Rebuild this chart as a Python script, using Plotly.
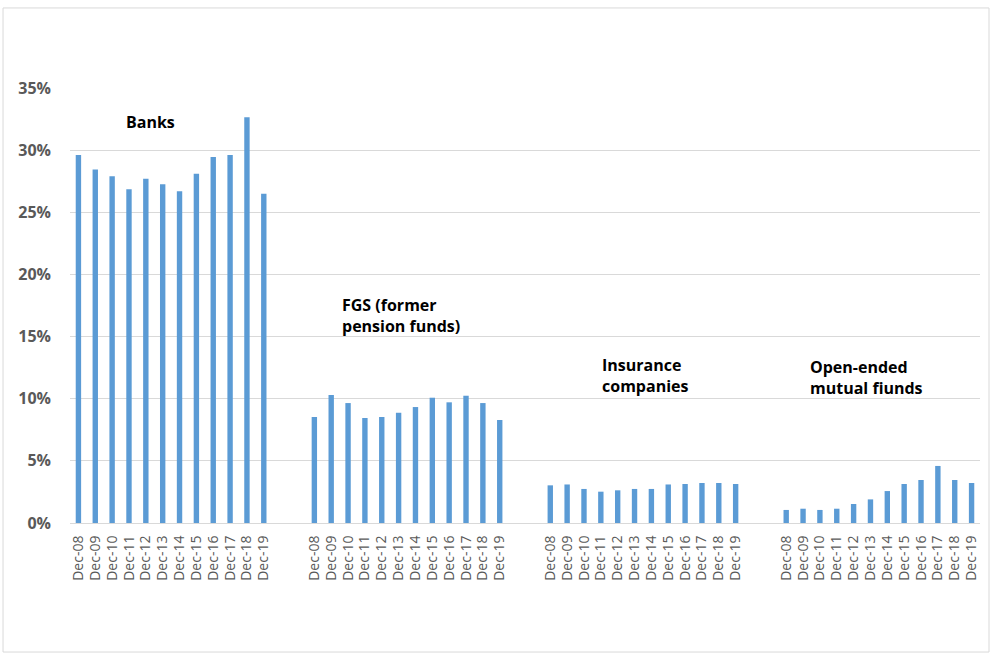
import plotly.graph_objects as go

# Share of holdings by institution type, December 2008 - December 2019
years = ["Dec-08", "Dec-09", "Dec-10", "Dec-11", "Dec-12", "Dec-13",
         "Dec-14", "Dec-15", "Dec-16", "Dec-17", "Dec-18", "Dec-19"]

banks = [29.6, 28.45, 27.9, 26.85, 27.7, 27.25, 26.7, 28.1, 29.45, 29.6, 32.65, 26.5]
fgs = [8.53, 10.3, 9.65, 8.45, 8.53, 8.87, 9.33, 10.08, 9.71, 10.24, 9.65, 8.29]
insurance = [3.03, 3.1, 2.74, 2.52, 2.63, 2.74, 2.74, 3.1, 3.14, 3.22, 3.22, 3.14]
mutual_funds = [1.05, 1.15, 1.05, 1.15, 1.53, 1.9, 2.57, 3.14, 3.46, 4.59, 3.46, 3.22]

groups = [
    ("Banks", banks),
    ("FGS (former<br>pension funds)", fgs),
    ("Insurance<br>companies", insurance),
    ("Open-ended<br>mutual fiunds", mutual_funds),
]

GAP = 2  # empty slots between institution groups
step = len(years) + GAP

xs, ys, tick_vals, tick_text = [], [], [], []
for g, (_, vals) in enumerate(groups):
    for i, v in enumerate(vals):
        pos = g * step + i
        xs.append(pos)
        ys.append(v / 100)
        tick_vals.append(pos)
        tick_text.append(years[i])

fig = go.Figure(go.Bar(x=xs, y=ys, width=0.32, marker_color="#5B9BD5",
                       marker_line_width=0))

# group labels: (x position in slots, y value, anchor)
label_pos = [(4.25, 0.323, "center"), (15.5, 0.167, "left"),
             (30.95, 0.119, "left"), (43.3, 0.117, "left")]
for (name, _), (lx, ly, anchor) in zip(groups, label_pos):
    fig.add_annotation(x=lx, y=ly, text=f"<b>{name}</b>", showarrow=False,
                       xanchor=anchor, yanchor="middle", align="left",
                       font=dict(family="Open Sans", size=16, color="#000000"))

# outer chart border
fig.add_shape(type="rect", xref="paper", yref="paper",
              x0=-0.0736, x1=1.0099, y0=-0.2966, y1=1.184,
              line=dict(color="#D9D9D9", width=1), layer="below")

n_slots = len(groups) * step - GAP
fig.update_layout(
    width=992, height=659,
    margin=dict(l=70, r=12, t=88, b=136),
    plot_bgcolor="white", paper_bgcolor="white",
    showlegend=False,
    xaxis=dict(range=[-0.5, n_slots - 0.5], tickmode="array",
               tickvals=tick_vals, ticktext=tick_text, tickangle=-90,
               tickfont=dict(family="Open Sans", size=14, color="#595959"),
               showgrid=False, showline=True, linecolor="#D9D9D9",
               linewidth=1, ticks="", zeroline=False, ticklabelstandoff=6),
    yaxis=dict(range=[0, 0.35], tickvals=[0, 0.05, 0.10, 0.15, 0.20, 0.25, 0.30, 0.35],
               ticktext=["<b>0%</b>", "<b>5%</b>", "<b>10%</b>", "<b>15%</b>",
                         "<b>20%</b>", "<b>25%</b>", "<b>30%</b>", "<b>35%</b>"],
               tickfont=dict(family="Open Sans", size=16, color="#595959"),
               showgrid=True, gridcolor="#D9D9D9", gridwidth=1,
               zeroline=False, ticks="", ticklabelstandoff=18),
)

fig.write_html("out.html")
